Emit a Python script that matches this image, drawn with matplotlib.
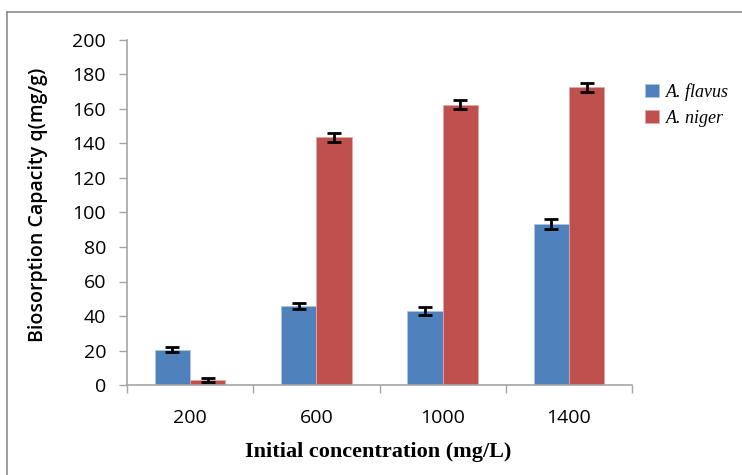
import numpy as np
import matplotlib.pyplot as plt
from matplotlib.lines import Line2D

concentrations = ['200', '600', '1000', '1400']
flavus = [20.5, 46, 43, 93.5]
flavus_err = [1.5, 1.8, 2.2, 3.0]
niger = [3, 143.5, 162.5, 172.5]
niger_err = [1.2, 2.5, 2.5, 2.5]
yticks = [0, 20, 40, 60, 80, 100, 120, 140, 160, 180, 200]

blue = '#4f81bd'
red = '#c0504d'
grey = '#a6a6a6'

fig = plt.figure(figsize=(7.42, 4.75), dpi=100)
ax = fig.add_axes([127 / 742, 1 - 385 / 475, (632 - 127) / 742, (385 - 40) / 475])

x = np.arange(len(concentrations))
w = 0.28
err_kw = dict(ecolor='black', elinewidth=2, capsize=5, capthick=2)
ax.bar(x - w / 2, flavus, w, color=blue, edgecolor='#aec3e0', linewidth=0.6,
       yerr=flavus_err, error_kw=err_kw, label='A. flavus')
ax.bar(x + w / 2, niger, w, color=red, edgecolor='#e0a8a6', linewidth=0.6,
       yerr=niger_err, error_kw=err_kw, label='A. niger')

ax.set_xlim(-0.5, len(concentrations) - 0.5)
ax.set_ylim(0, 200)
ax.set_yticks(yticks)
ax.set_yticklabels([str(v) for v in yticks], fontsize=14, family='Open Sans')
ax.set_xticks(x)
ax.set_xticklabels(concentrations, fontsize=14, family='Open Sans')
ax.set_xticks(np.arange(len(concentrations) + 1) - 0.5, minor=True)
ax.tick_params(axis='x', which='major', length=0, pad=17)
ax.tick_params(axis='x', which='minor', length=6, color=grey, width=1)
ax.tick_params(axis='y', length=6, color=grey, width=1, pad=9)

for s in ['top', 'right']:
    ax.spines[s].set_visible(False)
for s in ['left', 'bottom']:
    ax.spines[s].set_color(grey)
    ax.spines[s].set_linewidth(1.2)

fig.text(38 / 742, 1 - 205 / 475, 'Biosorption Capacity q(mg/g)', rotation=90,
         ha='center', va='center', fontsize=14, family='Open Sans', fontweight='semibold')
fig.text(378 / 742, 1 - 452 / 475, 'Initial concentration (mg/L)', ha='center', va='center',
         fontsize=16, family='Liberation Serif', fontweight='bold')

leg = fig.legend(loc='upper left', bbox_to_anchor=(645 / 742, 1 - 83 / 475), frameon=False,
                 borderpad=0, borderaxespad=0,
                 handlelength=0.75, handleheight=0.75, handletextpad=0.4, labelspacing=0.5,
                 prop=dict(family='Liberation Serif', style='italic', size=13))

# outer chart border
fig.add_artist(Line2D([7 / 742, 1], [1 - 12 / 475, 1 - 12 / 475], color='#8c8c8c', lw=1.2))
fig.add_artist(Line2D([7 / 742, 7 / 742], [0, 1 - 12 / 475], color='#8c8c8c', lw=1.2))

fig.savefig('out.png', dpi=100)
